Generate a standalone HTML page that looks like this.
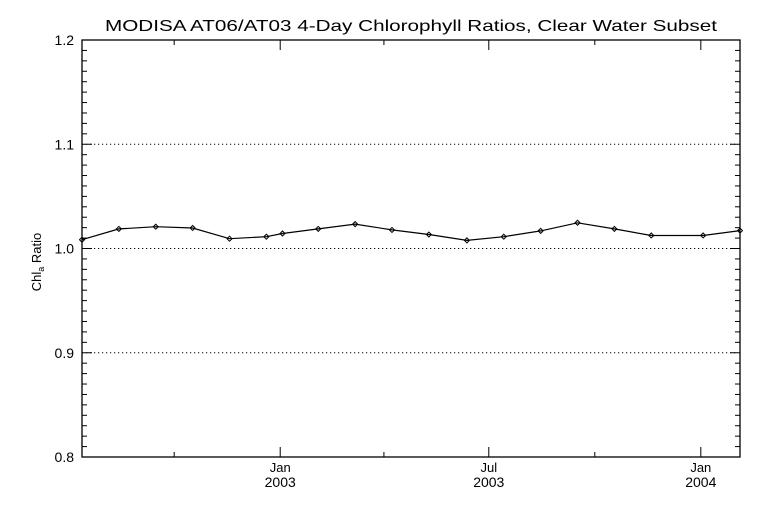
<!DOCTYPE html>
<html><head><meta charset="utf-8"><style>
body{margin:0;background:#fff;}
svg{display:block;font-family:"Liberation Sans",sans-serif;}
</style></head><body>
<svg id="chart" width="768" height="512" viewBox="0 0 768 512" xmlns="http://www.w3.org/2000/svg">
<rect width="768" height="512" fill="#fff"/>
<text x="411" y="31" text-anchor="middle" font-size="16" textLength="612" lengthAdjust="spacingAndGlyphs">MODISA AT06/AT03 4-Day Chlorophyll Ratios, Clear Water Subset</text>
<text transform="translate(41,262) rotate(-90)" text-anchor="middle" font-size="13">Chl<tspan font-size="9" dy="3">a</tspan><tspan dy="-3"> Ratio</tspan></text>
<g id="grid"></g><g id="axes"></g><g id="series"></g>
</svg>
<script>
const dates=["2002-07-13","2002-08-14","2002-09-15","2002-10-17","2002-11-18","2002-12-20","2003-01-03","2003-02-03","2003-03-07","2003-04-08","2003-05-10","2003-06-12","2003-07-14","2003-08-15","2003-09-16","2003-10-18","2003-11-19","2004-01-03","2004-02-04"];
const ratios=[1.0084,1.0188,1.0209,1.0197,1.0094,1.0113,1.0144,1.0188,1.0234,1.0178,1.0134,1.0078,1.0113,1.0169,1.0247,1.0188,1.0125,1.0125,1.0172];
const yTicks=[0.8,0.9,1.0,1.1,1.2];
const yTickLabels=["0.8","0.9","1.0","1.1","1.2"];
const xMajor=["2003-01-01","2003-07-01","2004-01-01"];
const xMajorLabels=[["Jan","2003"],["Jul","2003"],["Jan","2004"]];
const xMinor=["2002-10-01","2003-04-01","2003-10-01"];
const L=82,R=740,T=40,B=457;
const t0=Date.UTC(2002,6,13),t1=Date.UTC(2004,1,4);
function ms(s){const p=s.split("-");return Date.UTC(+p[0],+p[1]-1,+p[2]);}
function X(s){return L+(ms(s)-t0)/(t1-t0)*(R-L);}
function Y(v){return B-(v-0.8)/0.4*(B-T);}
const NS="http://www.w3.org/2000/svg";
function mk(tag,attrs,parent){const e=document.createElementNS(NS,tag);for(const k in attrs)e.setAttribute(k,attrs[k]);parent.appendChild(e);return e;}
const grid=document.getElementById("grid"),axes=document.getElementById("axes"),series=document.getElementById("series");
// frame
const fr=mk("rect",{x:L,y:T,width:R-L,height:B-T,fill:"none",stroke:"#000","stroke-width":1.3},axes);


// y ticks
yTicks.forEach((v,i)=>{
  const y=Y(v);
  if(i>0&&i<yTicks.length-1){
    const g=mk("line",{x1:L,x2:R-4,y1:y,y2:y,stroke:"#000","stroke-dasharray":"1.2,2.8","stroke-width":1},grid);
    
    
  }
  const t=mk("text",{x:74,y:y+5,"text-anchor":"end","font-size":14},axes);
  t.textContent=yTickLabels[i];
  
  
  mk("line",{x1:L,x2:L+10,y1:y,y2:y,stroke:"#000"},axes);
  mk("line",{x1:R,x2:R-10,y1:y,y2:y,stroke:"#000"},axes);
});
for(let k=1;k<40;k++){
  if(k%10===0)continue;
  const y=Y(0.8+k*0.01);
  mk("line",{x1:L,x2:L+5,y1:y,y2:y,stroke:"#000"},axes);
  mk("line",{x1:R,x2:R-5,y1:y,y2:y,stroke:"#000"},axes);
}
// x ticks
xMajor.forEach((d,i)=>{
  const x=X(d);
  mk("line",{x1:x,x2:x,y1:B,y2:B-10,stroke:"#000"},axes);
  mk("line",{x1:x,x2:x,y1:T,y2:T+10,stroke:"#000"},axes);
  const t1e=mk("text",{x:x,y:B+15,"text-anchor":"middle","font-size":13},axes);
  t1e.textContent=xMajorLabels[i][0];
  
  
  const t2e=mk("text",{x:x,y:B+30,"text-anchor":"middle","font-size":14},axes);
  t2e.textContent=xMajorLabels[i][1];
  
  
});
xMinor.forEach(d=>{
  const x=X(d);
  mk("line",{x1:x,x2:x,y1:B,y2:B-5,stroke:"#000"},axes);
  mk("line",{x1:x,x2:x,y1:T,y2:T+5,stroke:"#000"},axes);
});
// series
const pts=dates.map((d,i)=>X(d).toFixed(1)+","+Y(ratios[i]).toFixed(1)).join(" ");
const pl=mk("polyline",{points:pts,fill:"none",stroke:"#000","stroke-width":1.2},series);


dates.forEach((d,i)=>{
  const x=X(d),y=Y(ratios[i]);
  const p=mk("path",{d:`M${x-2.5},${y}L${x},${y-2.5}L${x+2.5},${y}L${x},${y+2.5}Z`,fill:"none",stroke:"#000","stroke-width":1},series);
  
  
});
</script>
</body></html>
